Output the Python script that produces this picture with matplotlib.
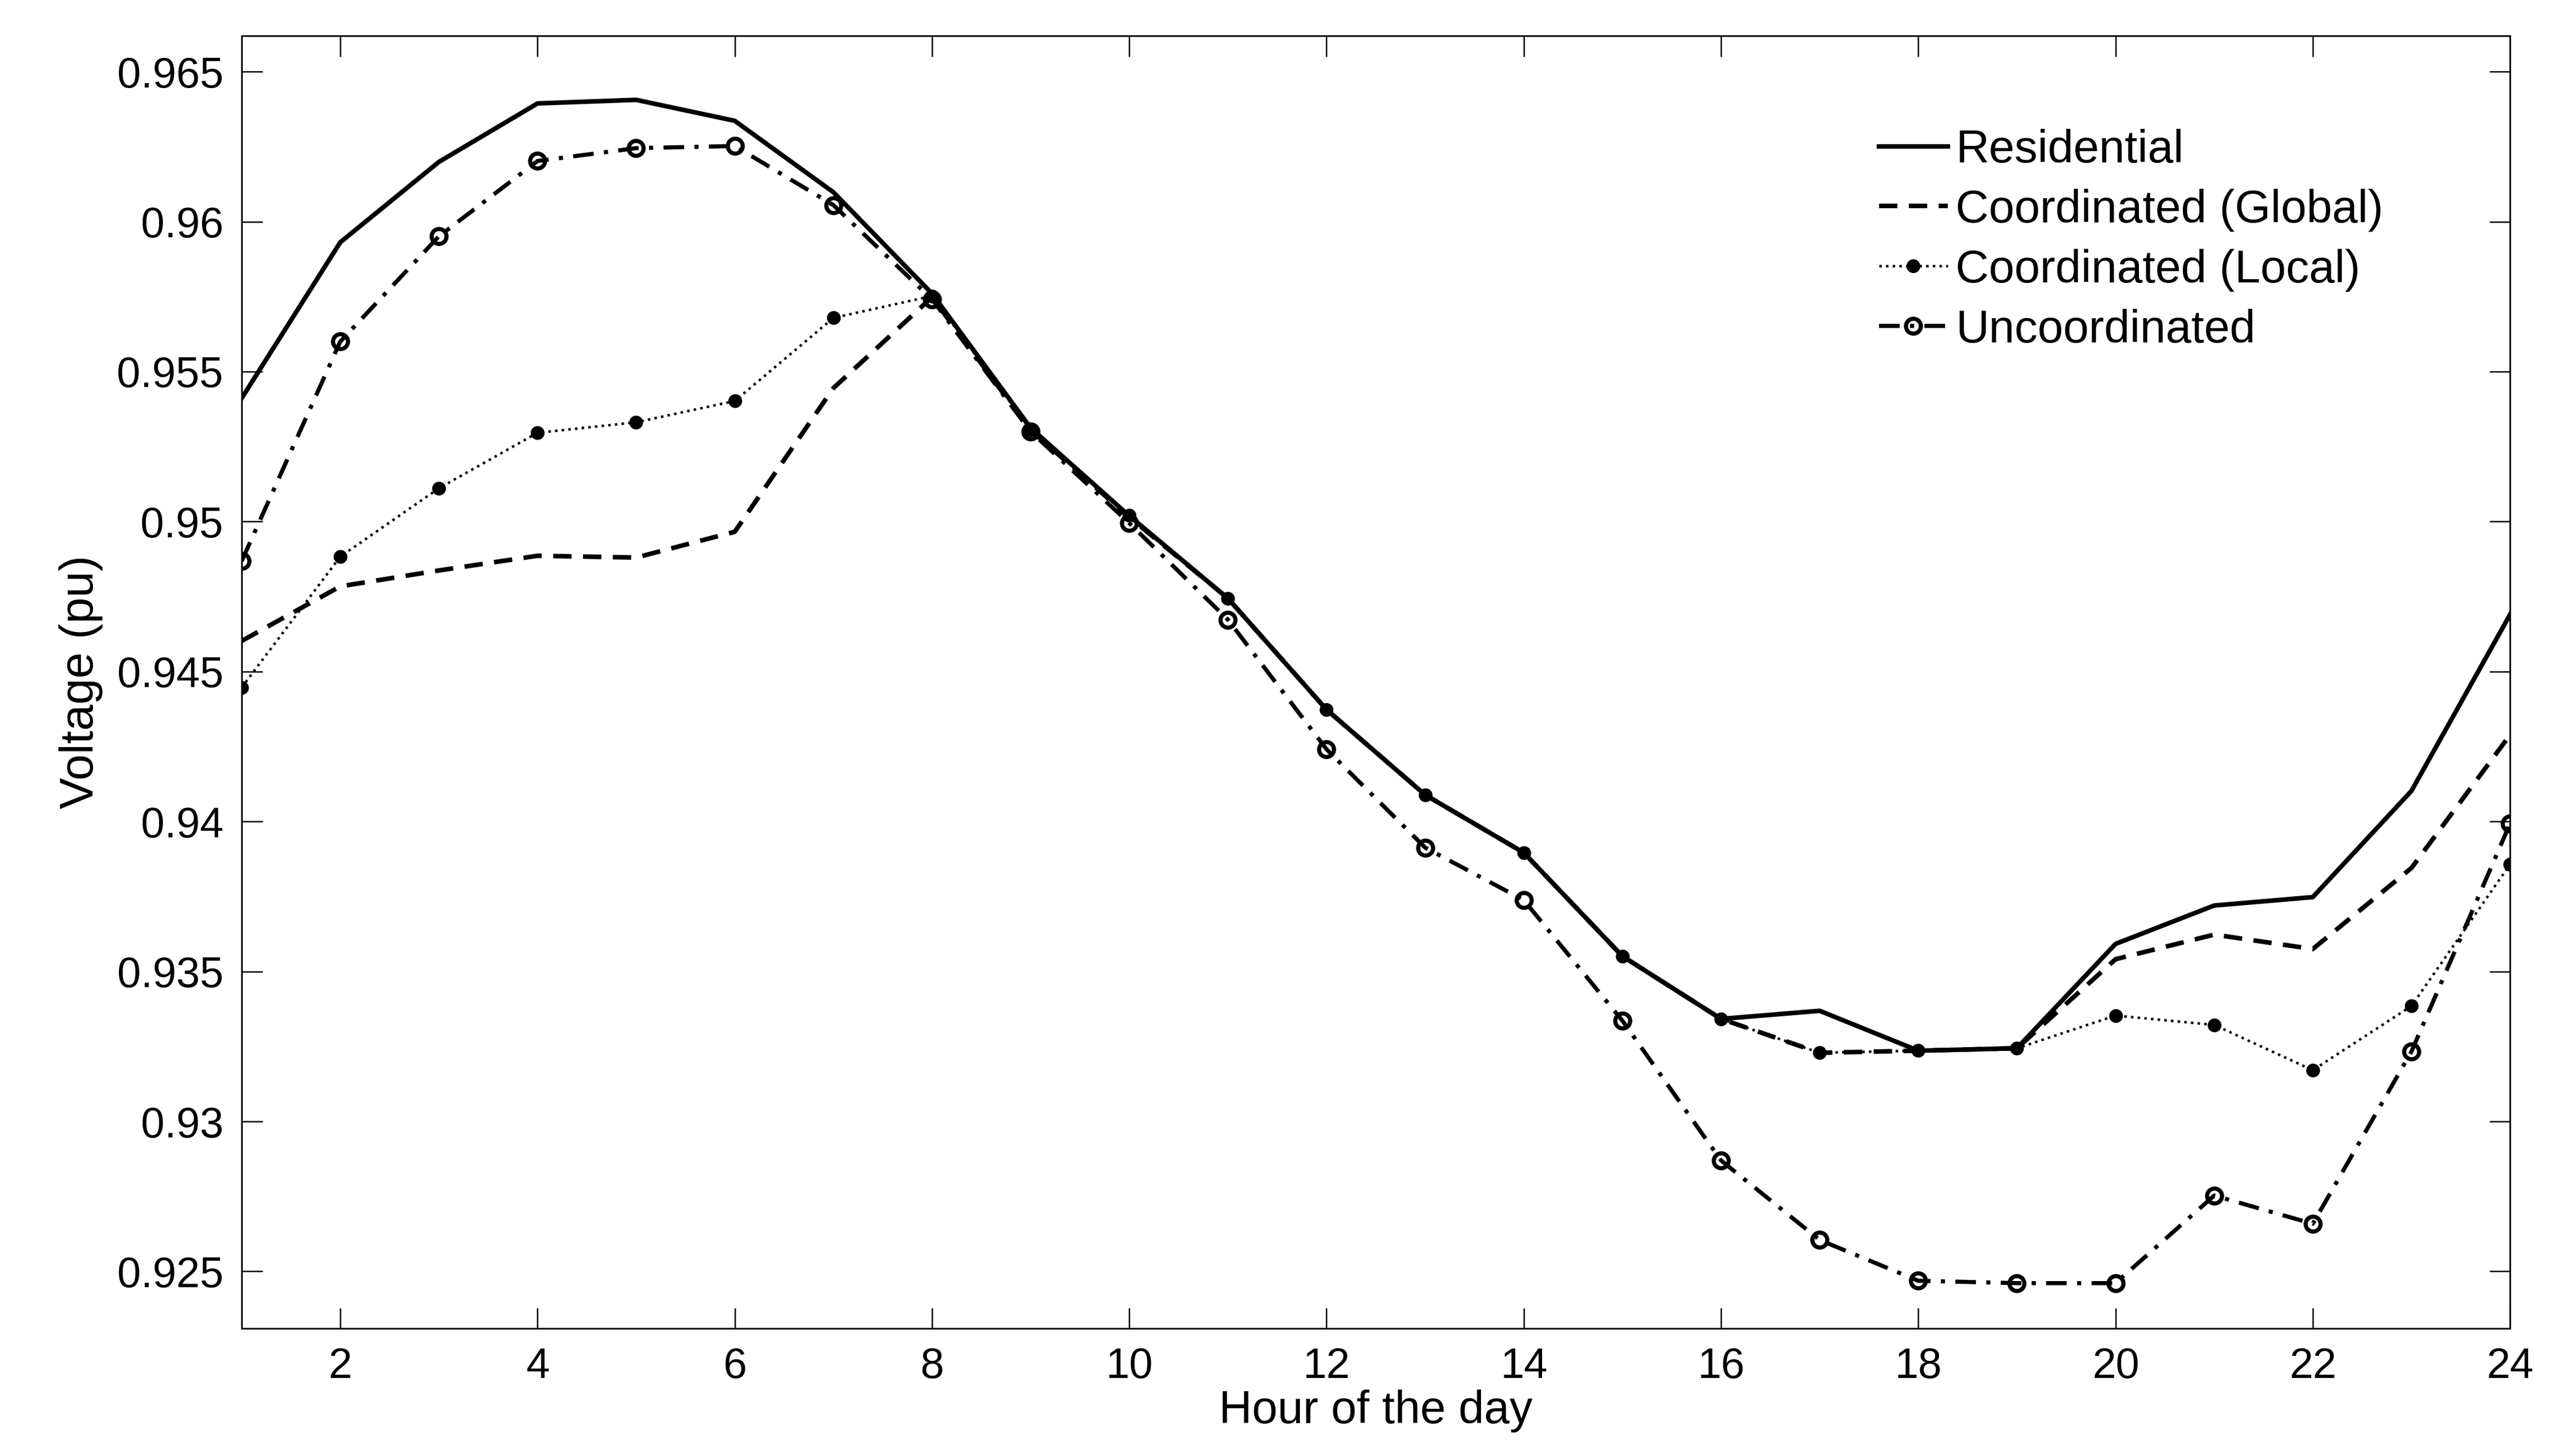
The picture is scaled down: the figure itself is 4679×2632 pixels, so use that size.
import matplotlib
matplotlib.use("Agg")
import matplotlib.pyplot as plt
import numpy as np

plt.rcParams['font.family'] = ['Liberation Sans', 'DejaVu Sans']

hours = np.arange(1, 25)

# voltage profiles (pu)
residential = [0.95411, 0.95931, 0.96199, 0.96394, 0.96406, 0.96336, 0.96098, 0.95760,
               0.95312, 0.95019, 0.94744, 0.94373, 0.94089, 0.93896, 0.93551, 0.93342,
               0.93369, 0.93236, 0.93244, 0.93592, 0.93720, 0.93748, 0.94102, 0.94690]
coord_global = [0.94602, 0.94784, 0.94837, 0.94886, 0.94880, 0.94966, 0.95445, 0.95748,
                0.95305, 0.95015, 0.94744, 0.94373, 0.94089, 0.93896, 0.93551, 0.93342,
                0.93229, 0.93236, 0.93244, 0.93541, 0.93623, 0.93575, 0.93845, 0.94289]
coord_local = [0.94447, 0.94883, 0.95111, 0.95296, 0.95331, 0.95402, 0.95679, 0.95752,
               0.95305, 0.95020, 0.94744, 0.94373, 0.94089, 0.93896, 0.93551, 0.93342,
               0.93229, 0.93236, 0.93244, 0.93353, 0.93322, 0.93171, 0.93385, 0.93857]
uncoord = [0.94868, 0.95600, 0.95951, 0.96202, 0.96245, 0.96252, 0.96055, 0.95741,
           0.95300, 0.94995, 0.94673, 0.94241, 0.93913, 0.93738, 0.93336, 0.92870,
           0.92605, 0.92469, 0.92461, 0.92461, 0.92753, 0.92659, 0.93233, 0.93993]

xtick_vals = np.arange(2, 25, 2)
ytick_vals = [0.925, 0.93, 0.935, 0.94, 0.945, 0.95, 0.955, 0.96, 0.965]
ytick_labels = ['0.925', '0.93', '0.935', '0.94', '0.945', '0.95', '0.955', '0.96', '0.965']

fig = plt.figure(figsize=(4679/300., 2632/300.), dpi=300)
ax = fig.add_axes([0.0938, 0.0832, 0.9744-0.0938, 0.9754-0.0832])

ax.plot(hours, residential, '-', color='k', linewidth=2.0, label='Residential')
ax.plot(hours, coord_global, color='k', linewidth=2.0, dashes=(4, 2.5), label='Coordinated (Global)')
ax.plot(hours, coord_local, ':', color='k', linewidth=1.1, marker='o', markersize=5,
        markerfacecolor='k', markeredgecolor='k', label='Coordinated (Local)')
ax.plot(hours, uncoord, color='k', linewidth=1.8, dashes=(5, 2.5, 1, 2.5), marker='o', markersize=6.5,
        markerfacecolor='none', markeredgecolor='k', markeredgewidth=1.8, label='Uncoordinated')

ax.set_xlim(1, 24)
ax.set_ylim(0.9231, 0.9662)
ax.set_xticks(xtick_vals)
ax.set_yticks(ytick_vals)
ax.set_yticklabels(ytick_labels)
ax.tick_params(direction='in', length=9, width=0.6, top=True, right=True, labelsize=18.5, pad=8)
for s in ax.spines.values():
    s.set_linewidth(0.7)

ax.set_xlabel('Hour of the day', fontsize=20, labelpad=1)
ax.set_ylabel('Voltage (pu)', fontsize=20.5, labelpad=6)

leg = ax.legend(loc='upper left', bbox_to_anchor=(0.7217, 0.928), frameon=False, fontsize=20.1,
                handlelength=1.5, handletextpad=0.17, labelspacing=0.37,
                borderpad=0, borderaxespad=0)

fig.savefig('out.png', dpi=300)
